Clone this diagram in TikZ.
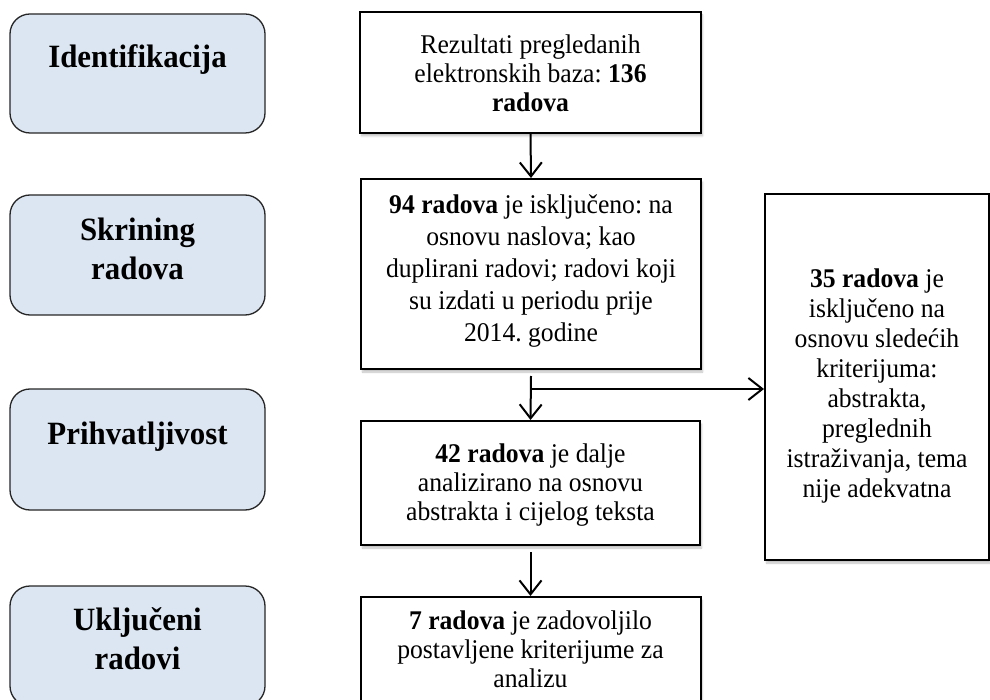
\documentclass[tikz,border=0pt]{standalone}
\usepackage{fontspec}
\setmainfont{Liberation Serif}[FakeStretch=0.95]
\frenchspacing
\usetikzlibrary{arrows.meta,shadows.blur}
\definecolor{phasefill}{HTML}{DCE6F2}
\begin{document}
\begin{tikzpicture}[x=1pt,y=-1pt,
  phase/.style={draw=black!85, line width=1.3pt, fill=phasefill, rounded corners=20pt, inner sep=0pt, minimum width=255pt},
  phasetext/.style={font=\fontsize{32.5}{39}\selectfont\bfseries, align=center, inner sep=0pt},
  stepbox/.style={draw=black, line width=2pt, fill=white, inner sep=0pt,
    blur shadow={shadow xshift=1.5pt, shadow yshift=-3pt, shadow opacity=25, shadow blur steps=6}},
  bodytext/.style={font=\fontsize{27}{29}\selectfont, align=center, inner sep=0pt},
  flow/.style={line width=2pt, -{Straight Barb[length=14pt, width=22pt]}}]
\useasboundingbox (0,0) rectangle (990,700);

% phase boxes
\node[phase, minimum height=119pt] (id) at (137.5,73.5) {};
\node[phasetext, anchor=base] (idt) at (137.5,68) {Identifikacija};
\node[phase, minimum height=120pt] (sk) at (137.5,255) {};
\node[phasetext] (skt) at (137.5,248.5) {Skrining\\radova};
\node[phase, minimum height=121pt] (pr) at (137.5,449.5) {};
\node[phasetext, anchor=base] (prt) at (137.5,444) {Prihvatljivost};
\node[phase, minimum height=120pt] (uk) at (137.5,646) {};
\node[phasetext] (ukt) at (137.5,639) {Uključeni\\radovi};

% flow boxes
\node[stepbox, minimum width=341pt, minimum height=121pt] (b1) at (530.5,72.5) {};
\node[bodytext] (b1t) at (530.5,73) {Rezultati pregledanih\\elektronskih baza: \textbf{136}\\\textbf{radova}};

\node[stepbox, minimum width=340pt, minimum height=190pt] (b2) at (531,274) {};
\node[bodytext, font=\fontsize{27}{32}\selectfont] (b2t) at (531,271.5) {\textbf{94 radova} je isključeno: na\\osnovu naslova; kao\\duplirani radovi; radovi koji\\su izdati u periodu prije\\2014. godine};

\node[stepbox, minimum width=339pt, minimum height=124pt] (b3) at (530.5,483) {};
\node[bodytext] (b3t) at (530.5,485) {\textbf{42 radova} je dalje\\analizirano na osnovu\\abstrakta i cijelog teksta};

\node[stepbox, minimum width=340pt, minimum height=109pt] (b4) at (530.5,651.5) {};
\node[bodytext] (b4t) at (530.5,649.5) {\textbf{7 radova} je zadovoljilo\\postavljene kriterijume za\\analizu};

\node[stepbox, minimum width=224pt, minimum height=366pt] (rb) at (877,377) {};
\node[bodytext, font=\fontsize{27}{30}\selectfont] (rbt) at (877,386) {\textbf{35 radova} je\\isključeno na\\osnovu sledećih\\kriterijuma:\\abstrakta,\\preglednih\\istraživanja, tema\\nije adekvatna};

% connectors
\draw[flow] (b1.south) -- (b2.north);
\draw[flow] ([yshift=-6pt]b2.south) -- (b3.north);
\coordinate (br) at (531,389);
\draw[flow] (br) -- (br -| rb.west);
\draw[flow] ([yshift=-6pt]b3.south) -- (b4.north);
\end{tikzpicture}
\end{document}
